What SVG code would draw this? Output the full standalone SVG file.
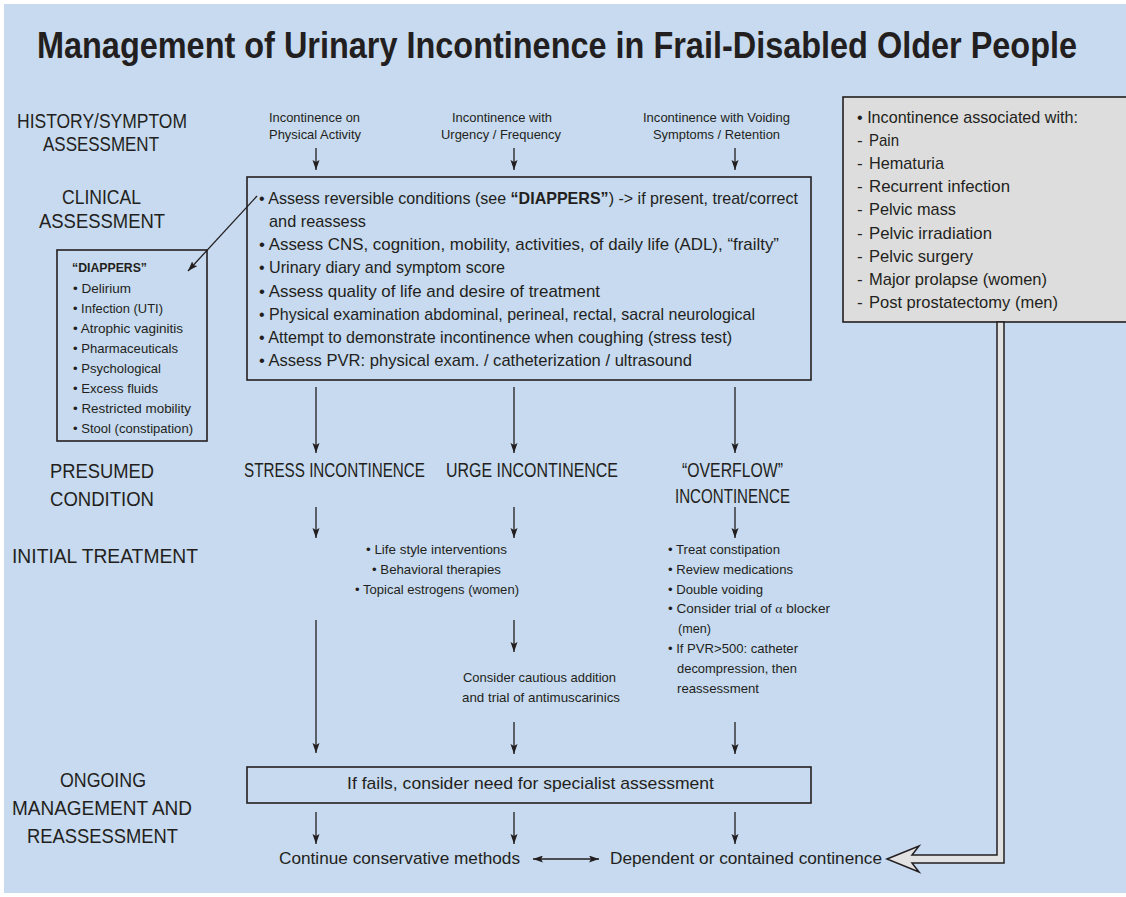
<svg xmlns="http://www.w3.org/2000/svg" width="1126" height="897" viewBox="0 0 1126 897">
<defs>
<style>
.t{font-family:"Liberation Sans Narrow","Liberation Sans",Arial,sans-serif;fill:#231f20;}
.lbl{font-size:20px;}
.bx{font-size:17px;}
.sm{font-size:13.5px;}
.cond{font-size:19.5px;}
.b{font-weight:bold;}
.ln{stroke:#231f20;stroke-width:1.3;fill:none;}
.frame{fill:none;stroke:#231f20;stroke-width:1.6;}
</style>
<marker id="ah" markerUnits="userSpaceOnUse" markerWidth="11" markerHeight="8" refX="10" refY="3.5" orient="auto">
<path d="M0,0 L10,3.5 L0,7 L2,3.5 Z" fill="#231f20"/>
</marker>
<marker id="ahs" markerUnits="userSpaceOnUse" markerWidth="11" markerHeight="8" refX="0" refY="3.5" orient="auto">
<path d="M10,0 L0,3.5 L10,7 L8,3.5 Z" fill="#231f20"/>
</marker>
</defs>
<rect x="0" y="0" width="1126" height="897" fill="#ffffff"/>
<rect x="4" y="4" width="1122" height="889" fill="#c7daef"/>

<text class="t b" x="37" y="58" font-size="36" textLength="1040" lengthAdjust="spacingAndGlyphs">Management of Urinary Incontinence in Frail-Disabled Older People</text>

<g id="row-labels">
<text class="t lbl" x="17" y="128" textLength="170" lengthAdjust="spacingAndGlyphs">HISTORY/SYMPTOM</text>
<text class="t lbl" x="43" y="151" textLength="116" lengthAdjust="spacingAndGlyphs">ASSESSMENT</text>
<text class="t lbl" x="62" y="204" textLength="79" lengthAdjust="spacingAndGlyphs">CLINICAL</text>
<text class="t lbl" x="39" y="228" textLength="126" lengthAdjust="spacingAndGlyphs">ASSESSMENT</text>
<text class="t lbl" x="50" y="478" textLength="104" lengthAdjust="spacingAndGlyphs">PRESUMED</text>
<text class="t lbl" x="50" y="506" textLength="104" lengthAdjust="spacingAndGlyphs">CONDITION</text>
<text class="t lbl" x="12" y="563" textLength="186" lengthAdjust="spacingAndGlyphs">INITIAL TREATMENT</text>
<text class="t lbl" x="60" y="787" textLength="86" lengthAdjust="spacingAndGlyphs">ONGOING</text>
<text class="t lbl" x="12" y="815" textLength="180" lengthAdjust="spacingAndGlyphs">MANAGEMENT AND</text>
<text class="t lbl" x="27" y="843" textLength="151" lengthAdjust="spacingAndGlyphs">REASSESSMENT</text>
</g>

<g id="symptom-physical">
<text class="t sm" x="269" y="122" textLength="91" lengthAdjust="spacingAndGlyphs">Incontinence on</text>
<text class="t sm" x="269" y="139" textLength="92" lengthAdjust="spacingAndGlyphs">Physical Activity</text>
</g>
<g id="symptom-urgency">
<text class="t sm" x="452" y="122" textLength="100" lengthAdjust="spacingAndGlyphs">Incontinence with</text>
<text class="t sm" x="441" y="139" textLength="120" lengthAdjust="spacingAndGlyphs">Urgency / Frequency</text>
</g>
<g id="symptom-voiding">
<text class="t sm" x="643" y="122" textLength="147" lengthAdjust="spacingAndGlyphs">Incontinence with Voiding</text>
<text class="t sm" x="653" y="139" textLength="127" lengthAdjust="spacingAndGlyphs">Symptoms / Retention</text>
</g>

<g id="clinical-box">
<rect class="frame" x="247" y="177" width="564" height="203"/>
<text class="t bx" x="259" y="204" textLength="539" lengthAdjust="spacingAndGlyphs">• Assess reversible conditions (see <tspan class="b">“DIAPPERS”</tspan>) -&gt; if present, treat/correct</text>
<text class="t bx" x="269" y="227" textLength="97" lengthAdjust="spacingAndGlyphs">and reassess</text>
<text class="t bx" x="259" y="250" textLength="520" lengthAdjust="spacingAndGlyphs">• Assess CNS, cognition, mobility, activities, of daily life (ADL), “frailty”</text>
<text class="t bx" x="259" y="273" textLength="246" lengthAdjust="spacingAndGlyphs">• Urinary diary and symptom score</text>
<text class="t bx" x="259" y="297" textLength="341" lengthAdjust="spacingAndGlyphs">• Assess quality of life and desire of treatment</text>
<text class="t bx" x="259" y="320" textLength="496" lengthAdjust="spacingAndGlyphs">• Physical examination abdominal, perineal, rectal, sacral neurological</text>
<text class="t bx" x="259" y="343" textLength="473" lengthAdjust="spacingAndGlyphs">• Attempt to demonstrate incontinence when coughing (stress test)</text>
<text class="t bx" x="259" y="366" textLength="433" lengthAdjust="spacingAndGlyphs">• Assess PVR: physical exam. / catheterization / ultrasound</text>
</g>

<g id="diappers-box">
<rect class="frame" x="57" y="250" width="150" height="191"/>
<text class="t sm b" x="72" y="272" textLength="75" lengthAdjust="spacingAndGlyphs">“DIAPPERS”</text>
<text class="t sm" x="73" y="293" textLength="58" lengthAdjust="spacingAndGlyphs">• Delirium</text>
<text class="t sm" x="73" y="313" textLength="90" lengthAdjust="spacingAndGlyphs">• Infection (UTI)</text>
<text class="t sm" x="73" y="333" textLength="110" lengthAdjust="spacingAndGlyphs">• Atrophic vaginitis</text>
<text class="t sm" x="73" y="353" textLength="105" lengthAdjust="spacingAndGlyphs">• Pharmaceuticals</text>
<text class="t sm" x="73" y="373" textLength="88" lengthAdjust="spacingAndGlyphs">• Psychological</text>
<text class="t sm" x="73" y="393" textLength="85" lengthAdjust="spacingAndGlyphs">• Excess fluids</text>
<text class="t sm" x="73" y="413" textLength="118" lengthAdjust="spacingAndGlyphs">• Restricted mobility</text>
<text class="t sm" x="73" y="433" textLength="120" lengthAdjust="spacingAndGlyphs">• Stool (constipation)</text>
</g>

<g id="associated-box">
<rect x="843" y="97" width="290" height="225" fill="#dddddd" stroke="#231f20" stroke-width="1.6"/>
<text class="t bx" x="857" y="123" textLength="221" lengthAdjust="spacingAndGlyphs">• Incontinence associated with:</text>
<g class="t bx">
<text x="857" y="146">-</text><text x="869" y="146" textLength="30" lengthAdjust="spacingAndGlyphs">Pain</text>
<text x="857" y="169">-</text><text x="869" y="169" textLength="75" lengthAdjust="spacingAndGlyphs">Hematuria</text>
<text x="857" y="192">-</text><text x="869" y="192" textLength="141" lengthAdjust="spacingAndGlyphs">Recurrent infection</text>
<text x="857" y="215">-</text><text x="869" y="215" textLength="87" lengthAdjust="spacingAndGlyphs">Pelvic mass</text>
<text x="857" y="239">-</text><text x="869" y="239" textLength="123" lengthAdjust="spacingAndGlyphs">Pelvic irradiation</text>
<text x="857" y="262">-</text><text x="869" y="262" textLength="104" lengthAdjust="spacingAndGlyphs">Pelvic surgery</text>
<text x="857" y="285">-</text><text x="869" y="285" textLength="178" lengthAdjust="spacingAndGlyphs">Major prolapse (women)</text>
<text x="857" y="308">-</text><text x="869" y="308" textLength="189" lengthAdjust="spacingAndGlyphs">Post prostatectomy (men)</text>
</g>
</g>

<g id="cond-stress">
<text class="t cond" x="244" y="477" textLength="181" lengthAdjust="spacingAndGlyphs">STRESS INCONTINENCE</text>
</g>
<g id="cond-urge">
<text class="t cond" x="446" y="477" textLength="172" lengthAdjust="spacingAndGlyphs">URGE INCONTINENCE</text>
</g>
<g id="cond-overflow">
<text class="t cond" x="682" y="477" textLength="101" lengthAdjust="spacingAndGlyphs">“OVERFLOW”</text>
<text class="t cond" x="675" y="503" textLength="115" lengthAdjust="spacingAndGlyphs">INCONTINENCE</text>
</g>

<g id="treat-urge">
<text class="t sm" x="366" y="554" textLength="141" lengthAdjust="spacingAndGlyphs">• Life style interventions</text>
<text class="t sm" x="372" y="574" textLength="129" lengthAdjust="spacingAndGlyphs">• Behavioral therapies</text>
<text class="t sm" x="355" y="594" textLength="164" lengthAdjust="spacingAndGlyphs">• Topical estrogens (women)</text>
</g>

<g id="treat-overflow">
<text class="t sm" x="668" y="554" textLength="112" lengthAdjust="spacingAndGlyphs">• Treat constipation</text>
<text class="t sm" x="668" y="574" textLength="125" lengthAdjust="spacingAndGlyphs">• Review medications</text>
<text class="t sm" x="668" y="594" textLength="95" lengthAdjust="spacingAndGlyphs">• Double voiding</text>
<text class="t sm" x="668" y="613" textLength="162" lengthAdjust="spacingAndGlyphs">• Consider trial of <tspan font-family="'Liberation Serif',serif">α</tspan> blocker</text>
<text class="t sm" x="678" y="633" textLength="33" lengthAdjust="spacingAndGlyphs">(men)</text>
<text class="t sm" x="668" y="653" textLength="130" lengthAdjust="spacingAndGlyphs">• If PVR&gt;500: catheter</text>
<text class="t sm" x="677" y="673" textLength="120" lengthAdjust="spacingAndGlyphs">decompression, then</text>
<text class="t sm" x="677" y="693" textLength="82" lengthAdjust="spacingAndGlyphs">reassessment</text>
</g>

<g id="antimuscarinics">
<text class="t sm" x="463" y="682" textLength="153" lengthAdjust="spacingAndGlyphs">Consider cautious addition</text>
<text class="t sm" x="462" y="702" textLength="158" lengthAdjust="spacingAndGlyphs">and trial of antimuscarinics</text>
</g>

<g id="specialist-box">
<rect class="frame" x="247" y="767" width="564" height="36"/>
<text class="t bx" x="347" y="789" textLength="367" lengthAdjust="spacingAndGlyphs">If fails, consider need for specialist assessment</text>
</g>

<g id="continue-conservative">
<text class="t bx" x="279" y="864" textLength="241" lengthAdjust="spacingAndGlyphs">Continue conservative methods</text>
</g>
<g id="dependent-continence">
<text class="t bx" x="610" y="864" textLength="272" lengthAdjust="spacingAndGlyphs">Dependent or contained continence</text>
</g>

<g id="connectors">
<line class="ln" x1="316" y1="148" x2="316" y2="170" marker-end="url(#ah)"/>
<line class="ln" x1="514" y1="148" x2="514" y2="170" marker-end="url(#ah)"/>
<line class="ln" x1="735" y1="148" x2="735" y2="170" marker-end="url(#ah)"/>
<line class="ln" x1="257" y1="196" x2="188" y2="271" marker-end="url(#ah)"/>
<line class="ln" x1="316" y1="387" x2="316" y2="453" marker-end="url(#ah)"/>
<line class="ln" x1="514" y1="387" x2="514" y2="453" marker-end="url(#ah)"/>
<line class="ln" x1="735" y1="387" x2="735" y2="453" marker-end="url(#ah)"/>
<line class="ln" x1="316" y1="507" x2="316" y2="538" marker-end="url(#ah)"/>
<line class="ln" x1="514" y1="507" x2="514" y2="538" marker-end="url(#ah)"/>
<line class="ln" x1="735" y1="507" x2="735" y2="538" marker-end="url(#ah)"/>
<line class="ln" x1="316" y1="620" x2="316" y2="753" marker-end="url(#ah)"/>
<line class="ln" x1="514" y1="620" x2="514" y2="652" marker-end="url(#ah)"/>
<line class="ln" x1="514" y1="722" x2="514" y2="754" marker-end="url(#ah)"/>
<line class="ln" x1="735" y1="722" x2="735" y2="754" marker-end="url(#ah)"/>
<line class="ln" x1="316" y1="812" x2="316" y2="844" marker-end="url(#ah)"/>
<line class="ln" x1="514" y1="812" x2="514" y2="844" marker-end="url(#ah)"/>
<line class="ln" x1="735" y1="812" x2="735" y2="844" marker-end="url(#ah)"/>
<line class="ln" x1="533" y1="859" x2="599" y2="859" marker-start="url(#ahs)" marker-end="url(#ah)"/>
<polygon points="887,859 919,846 912,855 997,855 997,322 1004,322 1004,863 912,863 919,872" fill="#e2e2e2" stroke="#231f20" stroke-width="1.5" stroke-linejoin="miter"/>
</g>
</svg>
